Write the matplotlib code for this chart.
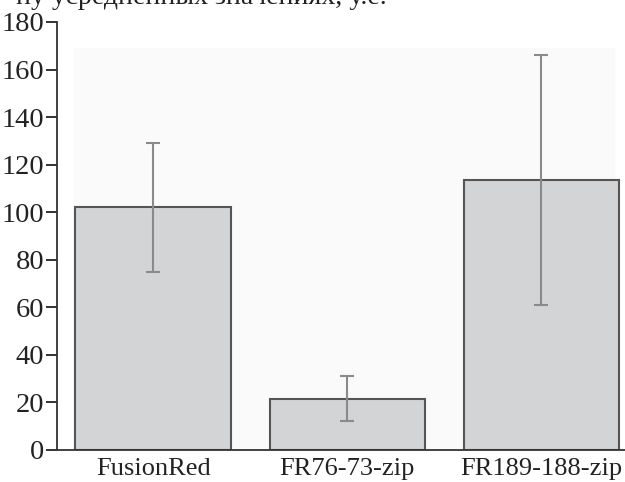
import numpy as np
import matplotlib.pyplot as plt

plt.rcParams['font.family'] = ['Liberation Serif', 'DejaVu Serif']

labels = ['FusionRed', 'FR76-73-zip', 'FR189-188-zip']
values = [102, 21.5, 113.5]
err_low = [27, 9.5, 52.5]
err_high = [27, 9.5, 52.5]
yticks = [0, 20, 40, 60, 80, 100, 120, 140, 160, 180]

fig = plt.figure(figsize=(6.25, 4.82), dpi=100)
ax = fig.add_axes([0.0912, 0.0664, 0.9088, 0.888])

x = np.arange(len(labels))
# faint background panel as in the scan
ax.axhspan(0, 169, xmin=0.03, xmax=0.98, color='#fafafa', zorder=0)
ax.bar(x, values, width=0.8, color='#d3d4d6', edgecolor='#555555', linewidth=1.5, zorder=2)
ax.errorbar(x, values, yerr=[err_low, err_high], fmt='none', ecolor='#8a8a8a',
            elinewidth=1.5, capsize=5, capthick=1.5, zorder=3)

ax.set_xlim(-0.495, 2.43)
ax.set_ylim(0, 180)
ax.set_yticks(yticks)
ax.set_xticks(x)
ax.set_xticklabels(labels)
ax.tick_params(axis='y', direction='out', length=8, width=1.3, labelsize=20.5, pad=1, colors='#222222')
ax.tick_params(axis='x', length=0, labelsize=19, pad=6, colors='#222222')
for s in ['top', 'right']:
    ax.spines[s].set_visible(False)
for s in ['left', 'bottom']:
    ax.spines[s].set_linewidth(1.3)
    ax.spines[s].set_color('#333333')

# title line cut off by the scan
fig.text(0.025, 0.992, 'ну усредненных значениях, у.е.', fontsize=20, va='baseline',
         ha='left', color='#222222')

fig.savefig('out.png', dpi=100)
